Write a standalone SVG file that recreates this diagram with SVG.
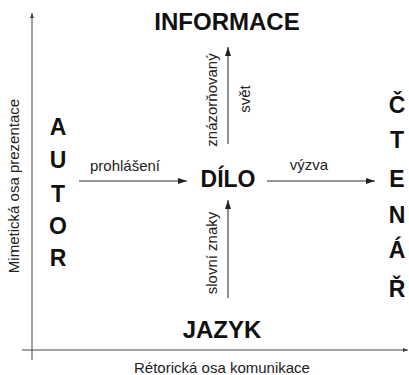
<svg xmlns="http://www.w3.org/2000/svg" width="409" height="375" viewBox="0 0 409 375">
<defs>
<style>
.big{font-family:"Liberation Sans",Arial,sans-serif;font-weight:bold;fill:#111;text-anchor:middle}
.lbl{font-family:"Liberation Sans",Arial,sans-serif;fill:#222;text-anchor:middle;font-size:15px}
.ln{stroke:#333;stroke-width:1.1;fill:none}
.ax{stroke:#444;stroke-width:1;fill:none}
</style>
<marker id="ah" markerWidth="10" markerHeight="8" refX="9" refY="4" orient="auto" markerUnits="userSpaceOnUse">
<path d="M0,1 L9,4 L0,7 Z" fill="#222"/>
</marker>
<marker id="axh" markerWidth="6" markerHeight="6" refX="5" refY="3" orient="auto" markerUnits="userSpaceOnUse">
<path d="M0,1 L5,3 L0,5 Z" fill="#444"/>
</marker>
</defs>
<rect width="409" height="375" fill="#fff"/>
<g id="connectors">
<line class="ax" x1="32" y1="360" x2="32" y2="13" marker-end="url(#axh)"/>
<line class="ax" x1="22" y1="350" x2="408" y2="350" marker-end="url(#axh)"/>
<line class="ln" x1="228" y1="144" x2="228" y2="47" marker-end="url(#ah)"/>
<line class="ln" x1="228" y1="298" x2="228" y2="200" marker-end="url(#ah)"/>
<line class="ln" x1="79" y1="181" x2="187" y2="181" marker-end="url(#ah)"/>
<line class="ln" x1="267" y1="181" x2="375" y2="181" marker-end="url(#ah)"/>
</g>
<g id="informace"><text class="big" x="227" y="30" font-size="24">INFORMACE</text></g>
<g id="dilo"><text class="big" x="228" y="187" font-size="23">DÍLO</text></g>
<g id="jazyk"><text class="big" x="222" y="338" font-size="24">JAZYK</text></g>
<g id="autor" class="big" font-size="23">
<text class="big" x="58" y="135">A</text>
<text class="big" x="58" y="168">U</text>
<text class="big" x="58" y="202">T</text>
<text class="big" x="58" y="234">O</text>
<text class="big" x="58" y="266">R</text>
</g>
<g id="ctenar" class="big" font-size="23">
<text class="big" x="397" y="113">Č</text>
<text class="big" x="397" y="148">T</text>
<text class="big" x="397" y="187">E</text>
<text class="big" x="397" y="223">N</text>
<text class="big" x="397" y="258">Á</text>
<text class="big" x="397" y="297">Ř</text>
</g>
<g id="labels">
<text class="lbl" x="125" y="171">prohlášení</text>
<text class="lbl" x="309" y="170">výzva</text>
<text class="lbl" transform="translate(217,100) rotate(-90)">znázorňovaný</text>
<text class="lbl" transform="translate(250,99) rotate(-90)">svět</text>
<text class="lbl" transform="translate(217,253) rotate(-90)">slovní znaky</text>
<text class="lbl" transform="translate(19,186) rotate(-90)">Mimetická osa prezentace</text>
<text class="lbl" x="222" y="373">Rétorická osa komunikace</text>
</g>
</svg>
